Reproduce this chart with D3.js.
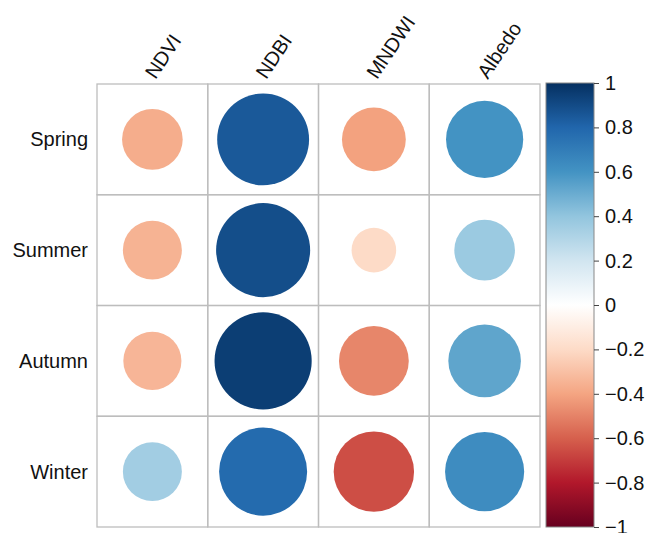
<!DOCTYPE html>
<html><head><meta charset="utf-8">
<script src="https://cdn.jsdelivr.net/npm/d3@7"></script>
<style>
html,body{margin:0;padding:0;background:#fff;}
text{font-family:"Liberation Sans",Arial,Helvetica,sans-serif;}
</style></head>
<body>
<svg id="chart" width="648" height="533"></svg>
<script>
const variables = ["NDVI", "NDBI", "MNDWI", "Albedo"];
const seasons = ["Spring", "Summer", "Autumn", "Winter"];
const ndvi = [-0.37, -0.35, -0.34, 0.35];
const ndbi = [0.85, 0.89, 0.95, 0.78];
const mndwi = [-0.41, -0.20, -0.49, -0.65];
const albedo = [0.60, 0.37, 0.53, 0.63];
const colorTicks = [-1, -0.8, -0.6, -0.4, -0.2, 0, 0.2, 0.4, 0.6, 0.8, 1];
const paletteColors = ["#67001F","#B2182B","#D6604D","#F4A582","#FDDBC7","#FFFFFF","#D1E5F0","#92C5DE","#4393C3","#2166AC","#053061"];

const series = {NDVI: ndvi, NDBI: ndbi, MNDWI: mndwi, Albedo: albedo};
const cells = [];
seasons.forEach((s, i) => variables.forEach(v => cells.push({season: s, variable: v, value: series[v][i]})));

const svg = d3.select("#chart");
const x = d3.scaleBand().domain(variables).range([97, 540]);
const y = d3.scaleBand().domain(seasons).range([84, 527]);
const color = d3.scaleLinear().domain(colorTicks).range(paletteColors).interpolate(d3.interpolateRgb);
const rScale = v => 0.45 * x.bandwidth() * Math.sqrt(Math.abs(v));

// grid cells
svg.append("g").selectAll("rect").data(cells).join("rect")
  .attr("x", d => x(d.variable)).attr("y", d => y(d.season))
  .attr("width", x.bandwidth()).attr("height", y.bandwidth())
  .attr("fill", "none").attr("stroke", "#bdbdbd").attr("stroke-width", 1.3);

// circles
svg.append("g").selectAll("circle").data(cells).join("circle")
  .attr("cx", d => x(d.variable) + x.bandwidth() / 2)
  .attr("cy", d => y(d.season) + y.bandwidth() / 2)
  .attr("r", d => rScale(d.value))
  .attr("fill", d => color(d.value));

// row labels
svg.append("g").selectAll("text").data(seasons).join("text")
  .attr("x", 88).attr("y", d => y(d) + y.bandwidth() / 2)
  .attr("dy", "0.35em").attr("text-anchor", "end")
  .attr("font-size", 20).attr("fill", "#111").text(d => d);

// column labels
svg.append("g").selectAll("text").data(variables).join("text")
  .attr("transform", d => `translate(${x(d) + x.bandwidth() / 2 + 3},${84 - 4}) rotate(-56)`)
  .attr("text-anchor", "start")
  .attr("font-size", 20).attr("fill", "#111").text(d => d);

// colorbar
const cbY = d3.scaleLinear().domain([-1, 1]).range([527, 83]);
const defs = svg.append("defs");
const grad = defs.append("linearGradient").attr("id", "cbgrad")
  .attr("x1", 0).attr("y1", 1).attr("x2", 0).attr("y2", 0);
grad.selectAll("stop").data(colorTicks).join("stop")
  .attr("offset", d => (d + 1) / 2)
  .attr("stop-color", d => color(d));
svg.append("rect").attr("x", 546).attr("y", cbY(1))
  .attr("width", 48).attr("height", cbY(-1) - cbY(1))
  .attr("fill", "url(#cbgrad)").attr("stroke", "#888").attr("stroke-width", 1);

const axis = d3.axisRight(cbY).tickValues(colorTicks).tickSize(5).tickPadding(6)
  .tickFormat(d => (d < 0 ? "\u2212" : "") + Math.abs(d));
const ag = svg.append("g").attr("transform", "translate(594,0)").call(axis);
ag.select(".domain").remove();
ag.selectAll(".tick line").attr("stroke", "#444");
ag.selectAll(".tick text").attr("font-size", 20).attr("fill", "#111")
  .style("font-family", '"Liberation Sans",Arial,sans-serif');
</script>
</body></html>
